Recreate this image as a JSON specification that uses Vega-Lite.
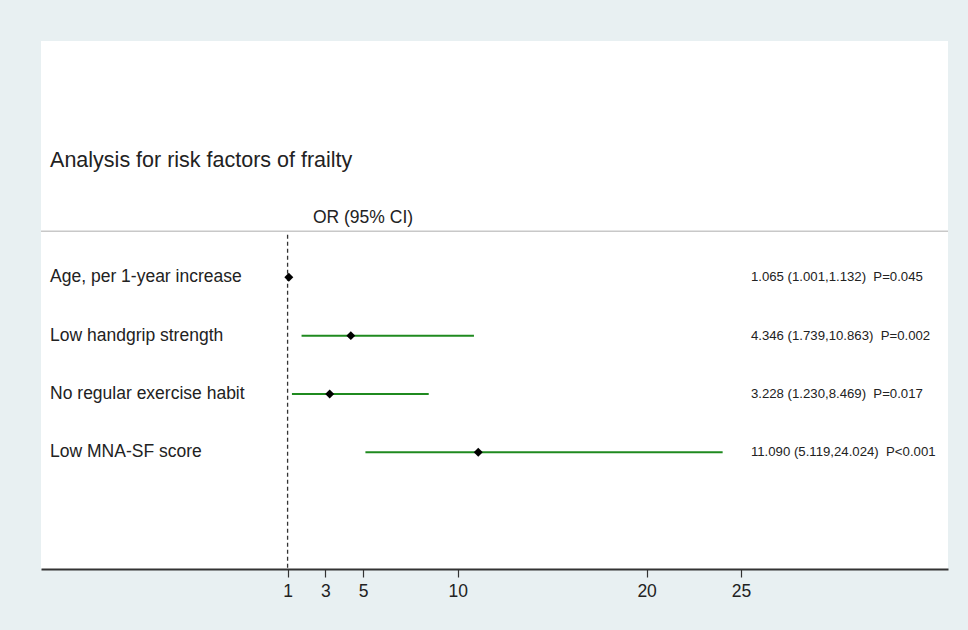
{
  "$schema": "https://vega.github.io/schema/vega-lite/v6.json",
  "width": 907,
  "height": 528,
  "autosize": "none",
  "padding": {"left": 41, "top": 41, "right": 20, "bottom": 61},
  "background": "#e8f0f2",
  "config": {
    "view": {"fill": "white", "stroke": null},
    "font": "Liberation Sans",
    "text": {"font": "Liberation Sans", "color": "#222222"}
  },
  "data": {
    "values": [
      {"row": 1, "label": "Age, per 1-year increase", "or": 1.065, "lo": 1.001, "hi": 1.132, "stat": "1.065 (1.001,1.132) \u00a0P=0.045"},
      {"row": 2, "label": "Low handgrip strength", "or": 4.346, "lo": 1.739, "hi": 10.863, "stat": "4.346 (1.739,10.863) \u00a0P=0.002"},
      {"row": 3, "label": "No regular exercise habit", "or": 3.228, "lo": 1.230, "hi": 8.469, "stat": "3.228 (1.230,8.469) \u00a0P=0.017"},
      {"row": 4, "label": "Low MNA-SF score", "or": 11.090, "lo": 5.119, "hi": 24.024, "stat": "11.090 (5.119,24.024) \u00a0P<0.001"}
    ]
  },
  "encoding": {
    "x": {"type": "quantitative", "scale": {"domain": [-12.05, 35.95], "nice": false, "zero": false},
      "axis": {"values": [1, 3, 5, 10, 20, 25], "title": null, "grid": false, "labelFontSize": 17.5, "labelFont": "Liberation Sans", "labelColor": "#222222",
        "domainColor": "#333333", "domainWidth": 2, "tickColor": "#333333", "tickSize": 8, "tickWidth": 1.2, "labelPadding": 5}},
    "y": {"type": "quantitative", "scale": {"domain": [-3.05, 6], "nice": false, "zero": false, "reverse": true}, "axis": null}
  },
  "layer": [
    {
      "data": {"values": [{}]},
      "mark": {"type": "rule", "color": "#c8c8c8", "strokeWidth": 1.5},
      "encoding": {"y": {"datum": 0.21, "type": "quantitative"}}
    },
    {
      "data": {"values": [{}]},
      "mark": {"type": "rule", "color": "#333333", "strokeWidth": 1.3, "strokeDash": [4, 3]},
      "encoding": {"x": {"datum": 1, "type": "quantitative"}, "y": {"datum": 0.27, "type": "quantitative"}, "y2": {"datum": 6}}
    },
    {
      "mark": {"type": "rule", "color": "#1f8a1f", "strokeWidth": 2},
      "encoding": {"x": {"field": "lo"}, "x2": {"field": "hi"}, "y": {"field": "row"}}
    },
    {
      "mark": {"type": "point", "shape": "diamond", "filled": true, "color": "black", "opacity": 1, "size": 80},
      "encoding": {"x": {"field": "or"}, "y": {"field": "row"}}
    },
    {
      "mark": {"type": "text", "align": "left", "baseline": "middle", "fontSize": 17.5},
      "encoding": {"x": {"datum": -11.57, "type": "quantitative"}, "y": {"field": "row"}, "text": {"field": "label"}}
    },
    {
      "mark": {"type": "text", "align": "left", "baseline": "middle", "fontSize": 13.2},
      "encoding": {"x": {"datum": 25.52, "type": "quantitative"}, "y": {"field": "row"}, "text": {"field": "stat"}}
    },
    {
      "data": {"values": [{}]},
      "mark": {"type": "text", "align": "left", "baseline": "middle", "fontSize": 21.5},
      "encoding": {"x": {"datum": -11.57, "type": "quantitative"}, "y": {"datum": -1, "type": "quantitative"}, "text": {"value": "Analysis for risk factors of frailty"}}
    },
    {
      "data": {"values": [{}]},
      "mark": {"type": "text", "align": "left", "baseline": "middle", "fontSize": 17.5},
      "encoding": {"x": {"datum": 2.34, "type": "quantitative"}, "y": {"datum": -0.02, "type": "quantitative"}, "text": {"value": "OR (95% CI)"}}
    }
  ]
}
